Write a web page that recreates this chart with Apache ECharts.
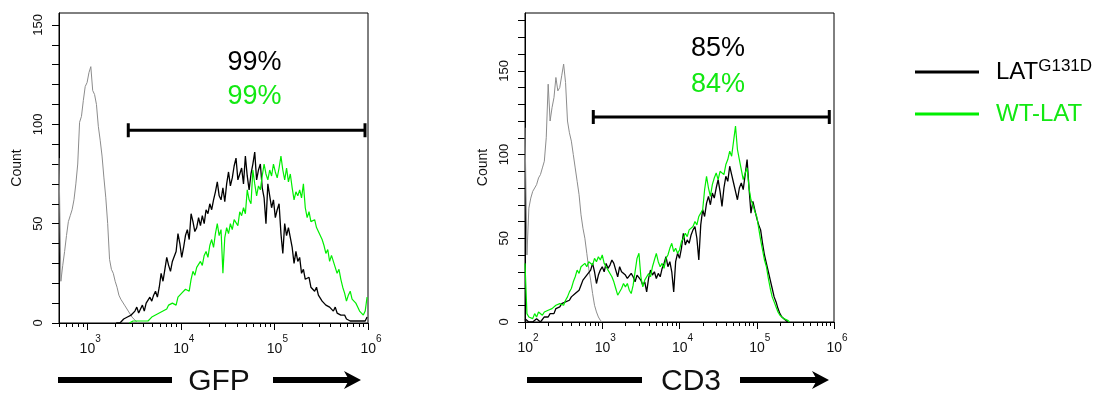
<!DOCTYPE html>
<html><head><meta charset="utf-8">
<script src="https://cdn.jsdelivr.net/npm/echarts@6/dist/echarts.min.js"></script>
<style>html,body{margin:0;padding:0;background:#fff}#c{width:1117px;height:397px}</style>
</head><body><div id="c"></div>
<script>
// ---------- DATA ----------
// GFP panel (x in log10 units of fluorescence)
const gfpXRange = [2.69897, 6];
const gfpYMax = 156;
const gfpMajor = [3, 4, 5, 6];
const gfpStep = 0.02;
const gfpGrayStart = 2.69897;
const gfpGray = [83,21,29,36,44,51,54,57,62,70,80,101,104,112,119,121,126,129,117,115,110,99,92,84,73,63,50,32,27,25,21,18,14,12,11,9,8,6,5,3,2,1,0];
const gfpBlackStart = 3.31;
const gfpBlack = [0,1,0,1,2,1,3,2,4,3, 6,8,5,7,9,6,10,9,13,11, 14,16,13,18,25,21,27,33,29,26, 31,30,36,45,40,33,38,44,47,42, 55,51,46,48,53,49,54,50,57,55, 60,57,62,66,71,64,62,68,61,70, 76,69,73,79,83,72,75,78,70,84, 74,67,75,80,86,72,77,80,68,63, 50,70,64,58,62,53,57,60,45,35, 50,44,48,47,38,30,36,31,33,25, 27,22,21,23,18,17,16,18,14,13, 11,12,9,10,8,7,6,8,5,5, 4,3,4,2,3,1,2,1,2,1, 2,1,2,1,3];
const gfpGreenStart = 3.45;
const gfpGreen = [0,0,1,0,1,0,1,0,1,2, 1,2,3,2,4,3,5,4,6,5, 7,9,8,10,11,9,13,12,15,14, 17,18,16,22,26,24,28,27,31,29, 34,36,33,39,42,38,45,50,44,47, 25,43,48,45,50,47,52,53,49,56, 54,58,55,67,62,60,77,70,64,69, 67,74,80,75,72,77,74,80,76,73, 78,84,77,72,78,71,75,68,62,66, 64,67,63,70,58,53,56,51,50,52, 48,46,47,42,39,35,37,31,34,33, 28,25,27,22,18,15,11,14,16,12, 13,10,8,6,5,4,6,13];
const gfpGate = [3.439, 5.968, 97];
const gfpPctPos = [4.787, 131, 114];
const gfpPct = ['99%', '99%'];

// CD3 panel
const cd3XRange = [2, 6];
const cd3YMax = 184.5;
const cd3Major = [2, 3, 4, 5, 6];
const cd3Step = 0.025;
const cd3GrayStart = 2.0;
const cd3Gray = [116,40,68,74,78,80,82,86,88,92, 96,110,142,120,128,134,146,138,140,147, 154,143,120,113,108,100,92,84,76,64, 56,50,41,32,25,17,10,6,3,1, 0];
const cd3BlackStart = 2.0;
const cd3Black = [2,1,0,1,0,1,2,1,0,1, 3,4,3,5,6,5,8,7,9,11, 10,12,11,13,15,14,17,16,19,22, 25,24,28,29,31,35,30,23,28,31, 33,30,35,32,34,37,35,31,27,33, 30,31,28,26,25,29,27,24,28,27, 25,22,24,18,26,31,28,30,26,29, 27,32,35,39,33,36,30,18,36,41, 38,44,53,46,49,47,52,55,57,50, 37,58,67,63,71,75,70,77,74,80, 85,78,69,80,87,84,93,88,83,78, 73,80,83,79,88,97,80,65,72,67, 62,58,55,47,40,35,30,25,20,15, 12,8,5,3,2,1,0];
const cd3GreenStart = 2.0;
const cd3Green = [35,5,3,4,2,5,3,6,7,4, 6,5,7,6,8,7,10,9,11,12, 10,13,15,18,20,24,27,31,29,33, 32,35,33,36,37,34,38,36,39,37, 40,35,33,31,29,27,24,20,16,16, 20,23,21,23,19,17,22,30,38,41, 27,21,25,24,29,27,33,37,41,36, 33,35,32,38,40,44,47,42,44,41, 43,48,50,53,51,55,54,57,60,58, 63,65,67,79,87,80,75,82,86,89, 85,90,91,88,94,97,102,99,108,117, 103,97,91,85,89,92,80,73,70,66, 63,56,49,43,37,33,26,20,15,12, 9,6,4,3,2,1,1,0];
const cd3Gate = [2.884, 5.939, 122.4];
const cd3PctPos = [4.498, 163, 142];
const cd3Pct = ['85%', '84%'];

const seriesNames = ['LATG131D', 'WT-LAT'];
const axisTitles = ['GFP', 'CD3'];

// ---------- STYLE / BUILD ----------
const FONT = '"Liberation Sans", Arial, Helvetica, sans-serif';
const BLACK = '#000000', GREEN = '#00ee00', GRAY = '#8c8c8c';
const GREEN_TXT = '#12e812';

function pairs(start, step, arr) { return arr.map((v, i) => [+(start + i * step).toFixed(5), v]); }
function minorTicks(lo, hi) {
  const out = [];
  for (let d = Math.floor(lo); d < hi; d++) for (let m = 2; m <= 9; m++) {
    const v = d + Math.log10(m); if (v >= lo - 1e-6 && v <= hi + 1e-6) out.push(v);
  }
  return out;
}
function range(step, max) { const o = []; for (let v = 0; v <= max; v += step) o.push(v); return o; }

const grids = [
  { left: 59, top: 13, width: 309, height: 310 },
  { left: 525, top: 13, width: 309, height: 309 }
];
grids.forEach(g => { g.show = true; g.borderColor = '#000'; g.borderWidth = 1; g.backgroundColor = 'transparent'; });

const xLabelRich = {
  b: { fontFamily: FONT, fontSize: 14, lineHeight: 22, verticalAlign: 'bottom', color: '#111', padding: [0, 0, 0, 6] },
  s: { fontFamily: FONT, fontSize: 10, lineHeight: 10, verticalAlign: 'top', color: '#111' }
};
function majorX(gi, rng, majors) {
  return {
    type: 'value', gridIndex: gi, position: 'bottom', min: rng[0], max: rng[1],
    axisLine: { show: true, onZero: false, lineStyle: { color: '#000', width: 1 } },
    axisTick: { show: true, length: 7, inside: false, customValues: majors, lineStyle: { color: '#000' } },
    axisLabel: { show: true, customValues: majors, margin: 11, formatter: v => '{b|10}{s|' + Math.round(v) + '}', rich: xLabelRich },
    splitLine: { show: false }
  };
}
function minorX(gi, rng) {
  return {
    type: 'value', gridIndex: gi, position: 'bottom', min: rng[0], max: rng[1],
    axisLine: { show: false, onZero: false },
    axisTick: { show: true, length: 4, customValues: minorTicks(rng[0], rng[1]), lineStyle: { color: '#000' } },
    axisLabel: { show: false }, splitLine: { show: false }
  };
}
function yAx(gi, max) {
  return {
    type: 'value', gridIndex: gi, min: 0, max: max, position: 'left',
    name: 'Count', nameLocation: 'middle', nameGap: 35, nameRotate: 90,
    nameTextStyle: { fontFamily: FONT, fontSize: 14, color: '#111' },
    axisLine: { show: true, onZero: false, lineStyle: { color: '#000' } },
    axisTick: { show: true, length: 7, customValues: range(10, max), lineStyle: { color: '#000' } },
    axisLabel: { show: true, customValues: [0, 50, 100, 150], rotate: 90, margin: 14, fontFamily: FONT, fontSize: 13, color: '#111' },
    splitLine: { show: false }
  };
}

function curve(name, xi, yi, data, color, width, z) {
  return { type: 'line', name: name, xAxisIndex: xi, yAxisIndex: yi, data: data, symbol: 'none', showSymbol: false,
    lineStyle: { color: color, width: width }, itemStyle: { color: color }, z: z, silent: true };
}
function gate(xi, yi, g) {
  return { type: 'line', xAxisIndex: xi, yAxisIndex: yi, data: [[g[0], g[2]], [g[1], g[2]]],
    symbol: 'rect', symbolSize: [3, 14], lineStyle: { color: '#000', width: 3 }, itemStyle: { color: '#000' }, z: 5, silent: true };
}
function pct(xi, yi, pos, texts) {
  return { type: 'scatter', xAxisIndex: xi, yAxisIndex: yi, symbolSize: 1, itemStyle: { color: 'rgba(0,0,0,0)', opacity: 1 }, z: 6, silent: true,
    data: [
      { value: [pos[0], pos[1]], label: { show: true, position: 'inside', formatter: texts[0], fontFamily: FONT, fontSize: 27, color: '#000', opacity: 1 } },
      { value: [pos[0], pos[2]], label: { show: true, position: 'inside', formatter: texts[1], fontFamily: FONT, fontSize: 27, color: GREEN_TXT, opacity: 1 } }
    ] };
}

const series = [
  curve('isoGFP', 0, 0, pairs(gfpGrayStart, gfpStep, gfpGray), GRAY, 1, 2),
  curve(seriesNames[0], 0, 0, pairs(gfpBlackStart, gfpStep, gfpBlack), BLACK, 1.3, 3),
  curve(seriesNames[1], 0, 0, pairs(gfpGreenStart, gfpStep, gfpGreen), GREEN, 1.2, 4),
  gate(0, 0, gfpGate),
  pct(0, 0, gfpPctPos, gfpPct),
  curve('isoCD3', 2, 1, pairs(cd3GrayStart, cd3Step, cd3Gray), GRAY, 1, 2),
  curve(seriesNames[0], 2, 1, pairs(cd3BlackStart, cd3Step, cd3Black), BLACK, 1.3, 3),
  curve(seriesNames[1], 2, 1, pairs(cd3GreenStart, cd3Step, cd3Green), GREEN, 1.2, 4),
  gate(2, 1, cd3Gate),
  pct(2, 1, cd3PctPos, cd3Pct)
];

function axisTitle(x0, x1, tx, a0, a1, label) {
  return [
    { type: 'rect', shape: { x: x0, y: 377, width: x1 - x0, height: 6 }, style: { fill: '#000' } },
    { type: 'text', x: tx, y: 382, style: { text: label, font: '30px ' + FONT, fill: '#111', align: 'center', verticalAlign: 'middle' } },
    { type: 'rect', shape: { x: a0, y: 377, width: a1 - a0 - 12, height: 6 }, style: { fill: '#000' } },
    { type: 'polygon', shape: { points: [[a1 - 17, 371], [a1, 380], [a1 - 17, 389], [a1 - 12, 380]] }, style: { fill: '#000' } }
  ];
}

const option = {
  animation: false,
  backgroundColor: '#fff',
  grid: grids,
  xAxis: [majorX(0, gfpXRange, gfpMajor), minorX(0, gfpXRange), majorX(1, cd3XRange, cd3Major), minorX(1, cd3XRange)],
  yAxis: [yAx(0, gfpYMax), yAx(1, cd3YMax)],
  legend: {
    left: 915, top: 58, orient: 'vertical', padding: 0, itemWidth: 64, itemHeight: 3, itemGap: 18, icon: 'rect',
    selectedMode: false, data: seriesNames,
    formatter: n => n === seriesNames[0] ? '{p| }{a|LAT}{s|G131D}' : '{p| }{g|WT-LAT}',
    textStyle: { fontFamily: FONT, rich: {
      p: { width: 12, fontSize: 10 },
      a: { fontFamily: FONT, fontSize: 24, lineHeight: 28, color: '#000' },
      s: { fontFamily: FONT, fontSize: 17, lineHeight: 17, verticalAlign: 'top', color: '#000' },
      g: { fontFamily: FONT, fontSize: 24, lineHeight: 28, color: GREEN_TXT }
    } }
  },
  graphic: [].concat(axisTitle(58, 172, 219, 273, 361, axisTitles[0]), axisTitle(527, 642, 691, 740, 829, axisTitles[1])),
  series: series
};

const chart = echarts.init(document.getElementById('c'), null, { renderer: 'canvas' });
chart.setOption(option);
</script>
</body></html>
